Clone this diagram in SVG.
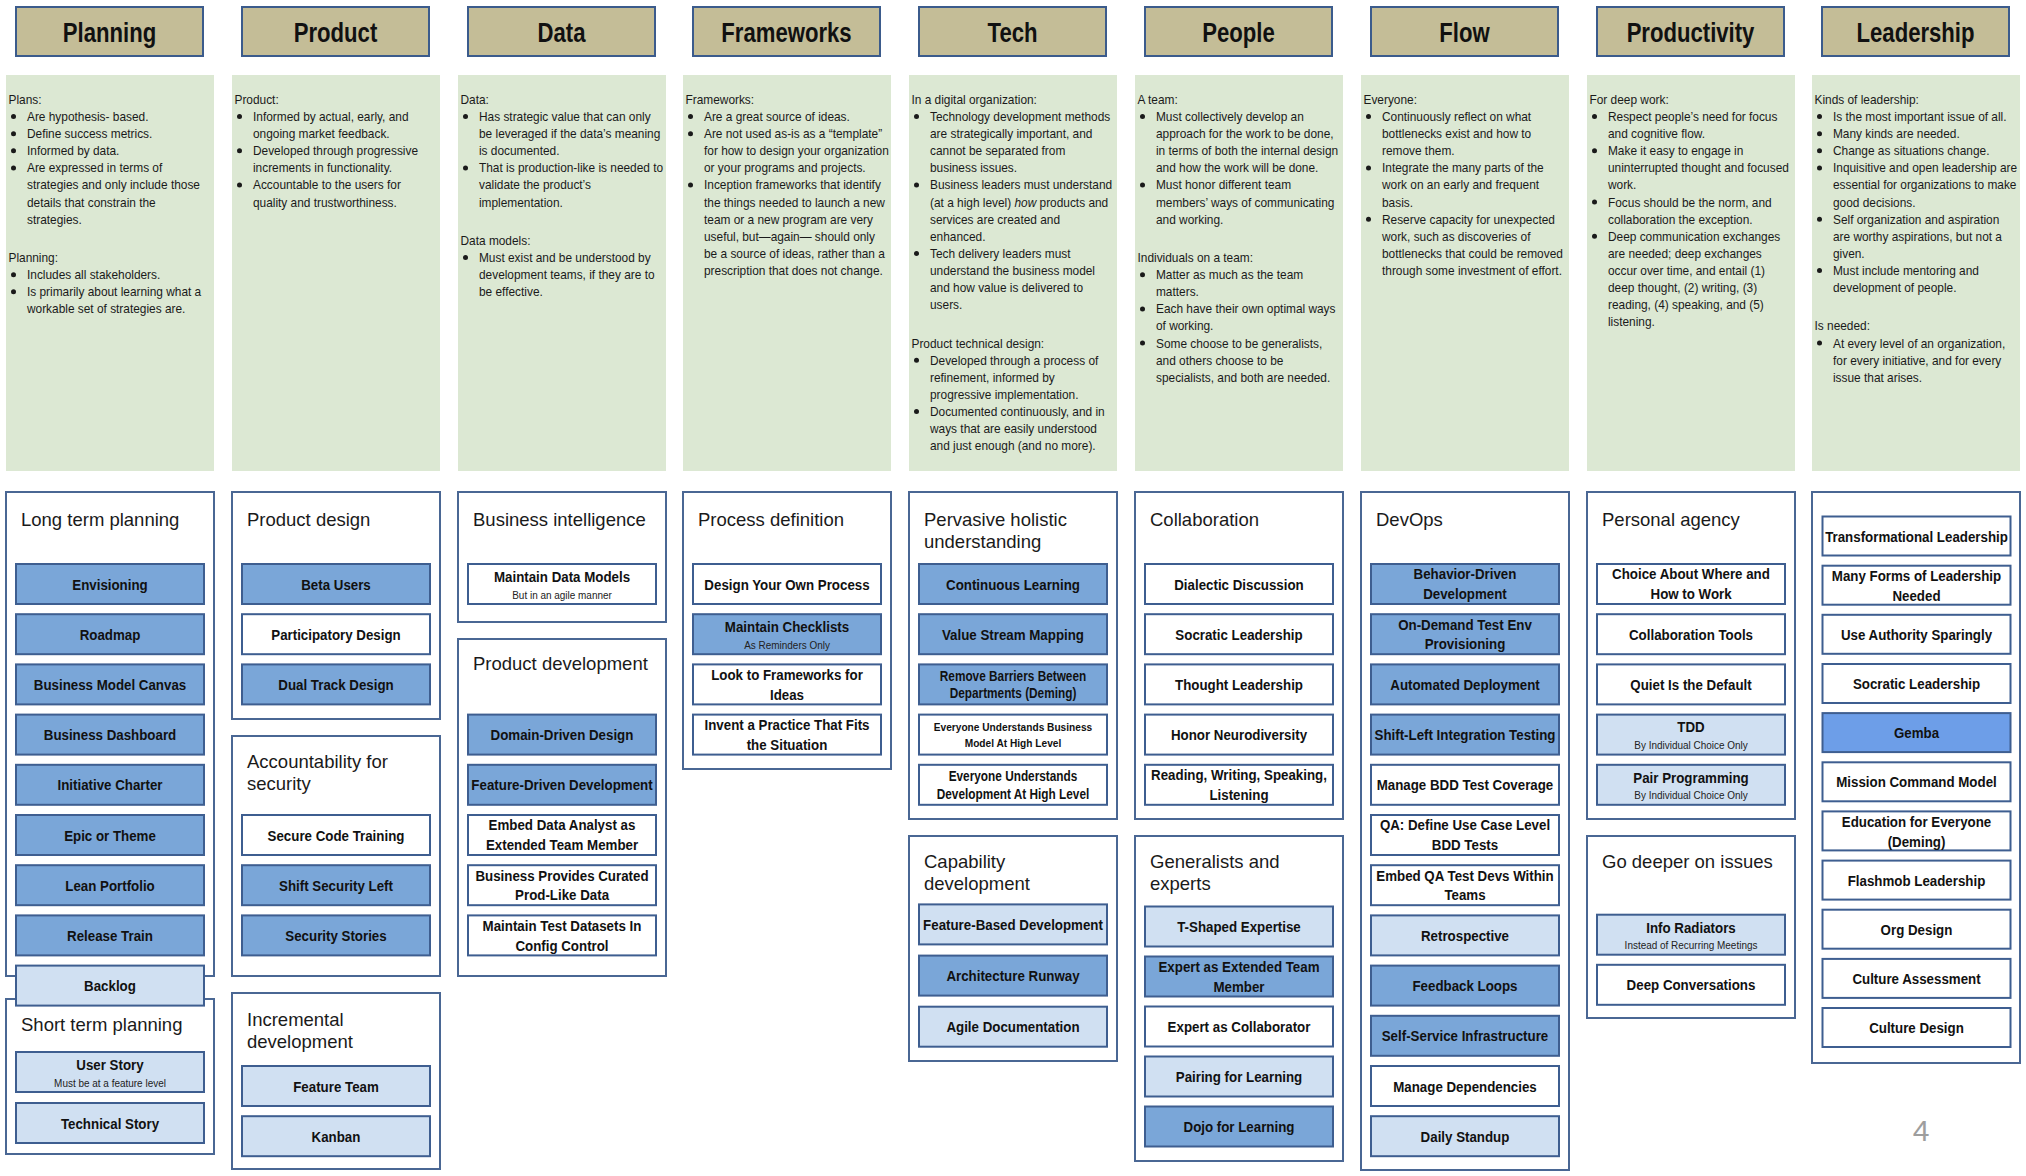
<svg xmlns="http://www.w3.org/2000/svg" width="2026" height="1176" viewBox="0 0 2026 1176">
<style>
.hd{fill:#c4bd97;stroke:#3b5b8c;stroke-width:2}
.ht{font-family:"Liberation Sans",Arial,sans-serif;font-weight:bold;font-size:28px;text-anchor:middle;fill:#111}
.pn{fill:#dce8d3}
.pt{font-family:"Liberation Sans",Arial,sans-serif;font-size:13px;fill:#1a1a1a}
.ct{fill:#fff;stroke:#4a6794;stroke-width:2}
.ctt{font-family:"Liberation Sans",Arial,sans-serif;font-size:18.5px;fill:#1a1a1a}
.it{stroke:#3e5e90;stroke-width:2}
.m{fill:#7aa6d8}.l{fill:#d0e0f2}.w{fill:#fff}.g{fill:#6d9ee8}
.ix,.sx{transform-box:fill-box;transform-origin:center;transform:translateY(0.9px) scaleX(0.86)}
.ix{font-family:"Liberation Sans",Arial,sans-serif;font-weight:bold;font-size:15.5px;text-anchor:middle;fill:#111}
.ix.s118{font-size:13.75px}.ix.s101{font-size:11.8px}
.sx{font-family:"Liberation Sans",Arial,sans-serif;font-size:11.6px;text-anchor:middle;fill:#222}
.bu{fill:#1a1a1a}
.pg{font-family:"Liberation Sans",Arial,sans-serif;font-size:30px;fill:#9e9e9e;text-anchor:middle}
</style>
<rect width="2026" height="1176" fill="#fff"/>

<!-- Headers -->
<g id="header-planning"><rect class="hd" x="16" y="7" width="187" height="49"/><text class="ht" transform="translate(109.5,42) scale(0.79,1)">Planning</text></g>
<g id="header-product"><rect class="hd" x="242" y="7" width="187" height="49"/><text class="ht" transform="translate(335.5,42) scale(0.79,1)">Product</text></g>
<g id="header-data"><rect class="hd" x="468" y="7" width="187" height="49"/><text class="ht" transform="translate(561.5,42) scale(0.79,1)">Data</text></g>
<g id="header-frameworks"><rect class="hd" x="693" y="7" width="187" height="49"/><text class="ht" transform="translate(786.5,42) scale(0.79,1)">Frameworks</text></g>
<g id="header-tech"><rect class="hd" x="919" y="7" width="187" height="49"/><text class="ht" transform="translate(1012.5,42) scale(0.79,1)">Tech</text></g>
<g id="header-people"><rect class="hd" x="1145" y="7" width="187" height="49"/><text class="ht" transform="translate(1238.5,42) scale(0.79,1)">People</text></g>
<g id="header-flow"><rect class="hd" x="1371" y="7" width="187" height="49"/><text class="ht" transform="translate(1464.5,42) scale(0.79,1)">Flow</text></g>
<g id="header-productivity"><rect class="hd" x="1597" y="7" width="187" height="49"/><text class="ht" transform="translate(1690.5,42) scale(0.79,1)">Productivity</text></g>
<g id="header-leadership"><rect class="hd" x="1822" y="7" width="187" height="49"/><text class="ht" transform="translate(1915.5,42) scale(0.79,1)">Leadership</text></g>

<!-- Notes panels -->
<g id="notes-planning">
<rect class="pn" x="6" y="75" width="208" height="396"/>
<g class="bu"><circle cx="13.5" cy="116.6" r="2.5"/><circle cx="13.5" cy="133.7" r="2.5"/><circle cx="13.5" cy="150.8" r="2.5"/><circle cx="13.5" cy="167.9" r="2.5"/><circle cx="13.5" cy="274.7" r="2.5"/><circle cx="13.5" cy="291.8" r="2.5"/></g>
<text class="pt" transform="translate(8.5,0) scale(0.915,1)"><tspan x="0" y="104">Plans:</tspan><tspan x="20.2" y="121.1">Are hypothesis- based.</tspan><tspan x="20.2" y="138.2">Define success metrics.</tspan><tspan x="20.2" y="155.3">Informed by data.</tspan><tspan x="20.2" y="172.4">Are expressed in terms of</tspan><tspan x="20.2" y="189.5">strategies and only include those</tspan><tspan x="20.2" y="206.6">details that constrain the</tspan><tspan x="20.2" y="223.7">strategies.</tspan><tspan x="0" y="262.1">Planning:</tspan><tspan x="20.2" y="279.2">Includes all stakeholders.</tspan><tspan x="20.2" y="296.3">Is primarily about learning what a</tspan><tspan x="20.2" y="313.4">workable set of strategies are.</tspan></text>
</g>
<g id="notes-product">
<rect class="pn" x="232" y="75" width="208" height="396"/>
<g class="bu"><circle cx="239.5" cy="116.6" r="2.5"/><circle cx="239.5" cy="150.8" r="2.5"/><circle cx="239.5" cy="185" r="2.5"/></g>
<text class="pt" transform="translate(234.5,0) scale(0.915,1)"><tspan x="0" y="104">Product:</tspan><tspan x="20.2" y="121.1">Informed by actual, early, and</tspan><tspan x="20.2" y="138.2">ongoing market feedback.</tspan><tspan x="20.2" y="155.3">Developed through progressive</tspan><tspan x="20.2" y="172.4">increments in functionality.</tspan><tspan x="20.2" y="189.5">Accountable to the users for</tspan><tspan x="20.2" y="206.6">quality and trustworthiness.</tspan></text>
</g>
<g id="notes-data">
<rect class="pn" x="458" y="75" width="208" height="396"/>
<g class="bu"><circle cx="465.5" cy="116.6" r="2.5"/><circle cx="465.5" cy="167.9" r="2.5"/><circle cx="465.5" cy="257.6" r="2.5"/></g>
<text class="pt" transform="translate(460.5,0) scale(0.915,1)"><tspan x="0" y="104">Data:</tspan><tspan x="20.2" y="121.1">Has strategic value that can only</tspan><tspan x="20.2" y="138.2">be leveraged if the data’s meaning</tspan><tspan x="20.2" y="155.3">is documented.</tspan><tspan x="20.2" y="172.4">That is production-like is needed to</tspan><tspan x="20.2" y="189.5">validate the product’s</tspan><tspan x="20.2" y="206.6">implementation.</tspan><tspan x="0" y="245">Data models:</tspan><tspan x="20.2" y="262.1">Must exist and be understood by</tspan><tspan x="20.2" y="279.2">development teams, if they are to</tspan><tspan x="20.2" y="296.3">be effective.</tspan></text>
</g>
<g id="notes-frameworks">
<rect class="pn" x="683" y="75" width="208" height="396"/>
<g class="bu"><circle cx="690.5" cy="116.6" r="2.5"/><circle cx="690.5" cy="133.7" r="2.5"/><circle cx="690.5" cy="185" r="2.5"/></g>
<text class="pt" transform="translate(685.5,0) scale(0.915,1)"><tspan x="0" y="104">Frameworks:</tspan><tspan x="20.2" y="121.1">Are a great source of ideas.</tspan><tspan x="20.2" y="138.2">Are not used as-is as a “template”</tspan><tspan x="20.2" y="155.3">for how to design your organization</tspan><tspan x="20.2" y="172.4">or your programs and projects.</tspan><tspan x="20.2" y="189.5">Inception frameworks that identify</tspan><tspan x="20.2" y="206.6">the things needed to launch a new</tspan><tspan x="20.2" y="223.7">team or a new program are very</tspan><tspan x="20.2" y="240.8">useful, but—again— should only</tspan><tspan x="20.2" y="257.9">be a source of ideas, rather than a</tspan><tspan x="20.2" y="275">prescription that does not change.</tspan></text>
</g>
<g id="notes-tech">
<rect class="pn" x="909" y="75" width="208" height="396"/>
<g class="bu"><circle cx="916.5" cy="116.6" r="2.5"/><circle cx="916.5" cy="185" r="2.5"/><circle cx="916.5" cy="253.4" r="2.5"/><circle cx="916.5" cy="360.2" r="2.5"/><circle cx="916.5" cy="411.5" r="2.5"/></g>
<text class="pt" transform="translate(911.5,0) scale(0.915,1)"><tspan x="0" y="104">In a digital organization:</tspan><tspan x="20.2" y="121.1">Technology development methods</tspan><tspan x="20.2" y="138.2">are strategically important, and</tspan><tspan x="20.2" y="155.3">cannot be separated from</tspan><tspan x="20.2" y="172.4">business issues.</tspan><tspan x="20.2" y="189.5">Business leaders must understand</tspan><tspan x="20.2" y="206.6">(at a high level) <tspan font-style="italic">how</tspan> products and</tspan><tspan x="20.2" y="223.7">services are created and</tspan><tspan x="20.2" y="240.8">enhanced.</tspan><tspan x="20.2" y="257.9">Tech delivery leaders must</tspan><tspan x="20.2" y="275">understand the business model</tspan><tspan x="20.2" y="292.1">and how value is delivered to</tspan><tspan x="20.2" y="309.2">users.</tspan><tspan x="0" y="347.6">Product technical design:</tspan><tspan x="20.2" y="364.7">Developed through a process of</tspan><tspan x="20.2" y="381.8">refinement, informed by</tspan><tspan x="20.2" y="398.9">progressive implementation.</tspan><tspan x="20.2" y="416">Documented continuously, and in</tspan><tspan x="20.2" y="433.1">ways that are easily understood</tspan><tspan x="20.2" y="450.2">and just enough (and no more).</tspan></text>
</g>
<g id="notes-people">
<rect class="pn" x="1135" y="75" width="208" height="396"/>
<g class="bu"><circle cx="1142.5" cy="116.6" r="2.5"/><circle cx="1142.5" cy="185" r="2.5"/><circle cx="1142.5" cy="274.7" r="2.5"/><circle cx="1142.5" cy="308.9" r="2.5"/><circle cx="1142.5" cy="343.1" r="2.5"/></g>
<text class="pt" transform="translate(1137.5,0) scale(0.915,1)"><tspan x="0" y="104">A team:</tspan><tspan x="20.2" y="121.1">Must collectively develop an</tspan><tspan x="20.2" y="138.2">approach for the work to be done,</tspan><tspan x="20.2" y="155.3">in terms of both the internal design</tspan><tspan x="20.2" y="172.4">and how the work will be done.</tspan><tspan x="20.2" y="189.5">Must honor different team</tspan><tspan x="20.2" y="206.6">members’ ways of communicating</tspan><tspan x="20.2" y="223.7">and working.</tspan><tspan x="0" y="262.1">Individuals on a team:</tspan><tspan x="20.2" y="279.2">Matter as much as the team</tspan><tspan x="20.2" y="296.3">matters.</tspan><tspan x="20.2" y="313.4">Each have their own optimal ways</tspan><tspan x="20.2" y="330.5">of working.</tspan><tspan x="20.2" y="347.6">Some choose to be generalists,</tspan><tspan x="20.2" y="364.7">and others choose to be</tspan><tspan x="20.2" y="381.8">specialists, and both are needed.</tspan></text>
</g>
<g id="notes-flow">
<rect class="pn" x="1361" y="75" width="208" height="396"/>
<g class="bu"><circle cx="1368.5" cy="116.6" r="2.5"/><circle cx="1368.5" cy="167.9" r="2.5"/><circle cx="1368.5" cy="219.2" r="2.5"/></g>
<text class="pt" transform="translate(1363.5,0) scale(0.915,1)"><tspan x="0" y="104">Everyone:</tspan><tspan x="20.2" y="121.1">Continuously reflect on what</tspan><tspan x="20.2" y="138.2">bottlenecks exist and how to</tspan><tspan x="20.2" y="155.3">remove them.</tspan><tspan x="20.2" y="172.4">Integrate the many parts of the</tspan><tspan x="20.2" y="189.5">work on an early and frequent</tspan><tspan x="20.2" y="206.6">basis.</tspan><tspan x="20.2" y="223.7">Reserve capacity for unexpected</tspan><tspan x="20.2" y="240.8">work, such as discoveries of</tspan><tspan x="20.2" y="257.9">bottlenecks that could be removed</tspan><tspan x="20.2" y="275">through some investment of effort.</tspan></text>
</g>
<g id="notes-productivity">
<rect class="pn" x="1587" y="75" width="208" height="396"/>
<g class="bu"><circle cx="1594.5" cy="116.6" r="2.5"/><circle cx="1594.5" cy="150.8" r="2.5"/><circle cx="1594.5" cy="202.1" r="2.5"/><circle cx="1594.5" cy="236.3" r="2.5"/></g>
<text class="pt" transform="translate(1589.5,0) scale(0.915,1)"><tspan x="0" y="104">For deep work:</tspan><tspan x="20.2" y="121.1">Respect people’s need for focus</tspan><tspan x="20.2" y="138.2">and cognitive flow.</tspan><tspan x="20.2" y="155.3">Make it easy to engage in</tspan><tspan x="20.2" y="172.4">uninterrupted thought and focused</tspan><tspan x="20.2" y="189.5">work.</tspan><tspan x="20.2" y="206.6">Focus should be the norm, and</tspan><tspan x="20.2" y="223.7">collaboration the exception.</tspan><tspan x="20.2" y="240.8">Deep communication exchanges</tspan><tspan x="20.2" y="257.9">are needed; deep exchanges</tspan><tspan x="20.2" y="275">occur over time, and entail (1)</tspan><tspan x="20.2" y="292.1">deep thought, (2) writing, (3)</tspan><tspan x="20.2" y="309.2">reading, (4) speaking, and (5)</tspan><tspan x="20.2" y="326.3">listening.</tspan></text>
</g>
<g id="notes-leadership">
<rect class="pn" x="1812" y="75" width="208" height="396"/>
<g class="bu"><circle cx="1819.5" cy="116.6" r="2.5"/><circle cx="1819.5" cy="133.7" r="2.5"/><circle cx="1819.5" cy="150.8" r="2.5"/><circle cx="1819.5" cy="167.9" r="2.5"/><circle cx="1819.5" cy="219.2" r="2.5"/><circle cx="1819.5" cy="270.5" r="2.5"/><circle cx="1819.5" cy="343.1" r="2.5"/></g>
<text class="pt" transform="translate(1814.5,0) scale(0.915,1)"><tspan x="0" y="104">Kinds of leadership:</tspan><tspan x="20.2" y="121.1">Is the most important issue of all.</tspan><tspan x="20.2" y="138.2">Many kinds are needed.</tspan><tspan x="20.2" y="155.3">Change as situations change.</tspan><tspan x="20.2" y="172.4">Inquisitive and open leadership are</tspan><tspan x="20.2" y="189.5">essential for organizations to make</tspan><tspan x="20.2" y="206.6">good decisions.</tspan><tspan x="20.2" y="223.7">Self organization and aspiration</tspan><tspan x="20.2" y="240.8">are worthy aspirations, but not a</tspan><tspan x="20.2" y="257.9">given.</tspan><tspan x="20.2" y="275">Must include mentoring and</tspan><tspan x="20.2" y="292.1">development of people.</tspan><tspan x="0" y="330.5">Is needed:</tspan><tspan x="20.2" y="347.6">At every level of an organization,</tspan><tspan x="20.2" y="364.7">for every initiative, and for every</tspan><tspan x="20.2" y="381.8">issue that arises.</tspan></text>
</g>

<!-- Containers -->
<g id="group-long-term-planning"><rect class="ct" x="6" y="492" width="208" height="484"/><text class="ctt" x="21" y="525.6">Long term planning</text></g>
<g id="group-short-term-planning"><rect class="ct" x="6" y="999" width="208" height="155"/><text class="ctt" x="21" y="1031">Short term planning</text></g>
<g id="group-product-design"><rect class="ct" x="232" y="492" width="208" height="227"/><text class="ctt" x="247" y="525.6">Product design</text></g>
<g id="group-accountability-security"><rect class="ct" x="232" y="736" width="208" height="240"/><text class="ctt" x="247" y="767.5">Accountability for</text><text class="ctt" x="247" y="789.5">security</text></g>
<g id="group-incremental-development"><rect class="ct" x="232" y="993" width="208" height="176"/><text class="ctt" x="247" y="1025.5">Incremental</text><text class="ctt" x="247" y="1047.5">development</text></g>
<g id="group-business-intelligence"><rect class="ct" x="458" y="492" width="208" height="130"/><text class="ctt" x="473" y="525.6">Business intelligence</text></g>
<g id="group-product-development"><rect class="ct" x="458" y="639" width="208" height="337"/><text class="ctt" x="473" y="670">Product development</text></g>
<g id="group-process-definition"><rect class="ct" x="683" y="492" width="208" height="277"/><text class="ctt" x="698" y="525.6">Process definition</text></g>
<g id="group-pervasive-holistic"><rect class="ct" x="909" y="492" width="208" height="327"/><text class="ctt" x="924" y="525.6">Pervasive holistic</text><text class="ctt" x="924" y="547.5">understanding</text></g>
<g id="group-capability-development"><rect class="ct" x="909" y="836" width="208" height="225"/><text class="ctt" x="924" y="867.5">Capability</text><text class="ctt" x="924" y="889.5">development</text></g>
<g id="group-collaboration"><rect class="ct" x="1135" y="492" width="208" height="327"/><text class="ctt" x="1150" y="525.6">Collaboration</text></g>
<g id="group-generalists-experts"><rect class="ct" x="1135" y="836" width="208" height="325"/><text class="ctt" x="1150" y="867.5">Generalists and</text><text class="ctt" x="1150" y="889.5">experts</text></g>
<g id="group-devops"><rect class="ct" x="1361" y="492" width="208" height="678"/><text class="ctt" x="1376" y="525.6">DevOps</text></g>
<g id="group-personal-agency"><rect class="ct" x="1587" y="492" width="208" height="327"/><text class="ctt" x="1602" y="525.6">Personal agency</text></g>
<g id="group-go-deeper"><rect class="ct" x="1587" y="836" width="208" height="182"/><text class="ctt" x="1602" y="867.5">Go deeper on issues</text></g>
<g id="group-leadership"><rect class="ct" x="1812" y="492" width="208" height="571"/></g>

<!-- Planning items -->
<g id="node-envisioning"><rect class="it m" x="16" y="564" width="188" height="40"/><text class="ix" x="110" y="588.7">Envisioning</text></g>
<g id="node-roadmap"><rect class="it m" x="16" y="614.2" width="188" height="40"/><text class="ix" x="110" y="638.9">Roadmap</text></g>
<g id="node-business-model-canvas"><rect class="it m" x="16" y="664.4" width="188" height="40"/><text class="ix" x="110" y="689.1">Business Model Canvas</text></g>
<g id="node-business-dashboard"><rect class="it m" x="16" y="714.6" width="188" height="40"/><text class="ix" x="110" y="739.3">Business Dashboard</text></g>
<g id="node-initiative-charter"><rect class="it m" x="16" y="764.8" width="188" height="40"/><text class="ix" x="110" y="789.5">Initiative Charter</text></g>
<g id="node-epic-theme"><rect class="it m" x="16" y="815" width="188" height="40"/><text class="ix" x="110" y="839.7">Epic or Theme</text></g>
<g id="node-lean-portfolio"><rect class="it m" x="16" y="865.2" width="188" height="40"/><text class="ix" x="110" y="889.9">Lean Portfolio</text></g>
<g id="node-release-train"><rect class="it m" x="16" y="915.4" width="188" height="40"/><text class="ix" x="110" y="940.1">Release Train</text></g>
<g id="node-backlog"><rect class="it l" x="16" y="965.6" width="188" height="40"/><text class="ix" x="110" y="990.3">Backlog</text></g>
<g id="node-user-story"><rect class="it l" x="16" y="1052" width="188" height="40"/><text class="ix" x="110" y="1069">User Story</text><text class="sx" x="110" y="1085.8">Must be at a feature level</text></g>
<g id="node-technical-story"><rect class="it l" x="16" y="1103" width="188" height="40"/><text class="ix" x="110" y="1127.7">Technical Story</text></g>

<!-- Product items -->
<g id="node-beta-users"><rect class="it m" x="242" y="564" width="188" height="40"/><text class="ix" x="336" y="588.7">Beta Users</text></g>
<g id="node-participatory-design"><rect class="it w" x="242" y="614.2" width="188" height="40"/><text class="ix" x="336" y="638.9">Participatory Design</text></g>
<g id="node-dual-track-design"><rect class="it m" x="242" y="664.4" width="188" height="40"/><text class="ix" x="336" y="689.1">Dual Track Design</text></g>
<g id="node-secure-code-training"><rect class="it w" x="242" y="815" width="188" height="40"/><text class="ix" x="336" y="839.7">Secure Code Training</text></g>
<g id="node-shift-security-left"><rect class="it m" x="242" y="865.2" width="188" height="40"/><text class="ix" x="336" y="889.9">Shift Security Left</text></g>
<g id="node-security-stories"><rect class="it m" x="242" y="915.4" width="188" height="40"/><text class="ix" x="336" y="940.1">Security Stories</text></g>
<g id="node-feature-team"><rect class="it l" x="242" y="1066" width="188" height="40"/><text class="ix" x="336" y="1090.7">Feature Team</text></g>
<g id="node-kanban"><rect class="it l" x="242" y="1116.2" width="188" height="40"/><text class="ix" x="336" y="1140.9">Kanban</text></g>

<!-- Data items -->
<g id="node-maintain-data-models"><rect class="it w" x="468" y="564" width="188" height="40"/><text class="ix" x="562" y="581">Maintain Data Models</text><text class="sx" x="562" y="597.8">But in an agile manner</text></g>
<g id="node-domain-driven-design"><rect class="it m" x="468" y="714.6" width="188" height="40"/><text class="ix" x="562" y="739.3">Domain-Driven Design</text></g>
<g id="node-feature-driven-development"><rect class="it m" x="468" y="764.8" width="188" height="40"/><text class="ix" x="562" y="789.5">Feature-Driven Development</text></g>
<g id="node-embed-data-analyst"><rect class="it w" x="468" y="815" width="188" height="40"/><text class="ix" x="562" y="829.6">Embed Data Analyst as</text><text class="ix" x="562" y="849.4">Extended Team Member</text></g>
<g id="node-business-provides-data"><rect class="it w" x="468" y="865.2" width="188" height="40"/><text class="ix" x="562" y="879.8">Business Provides Curated</text><text class="ix" x="562" y="899.6">Prod-Like Data</text></g>
<g id="node-maintain-test-datasets"><rect class="it w" x="468" y="915.4" width="188" height="40"/><text class="ix" x="562" y="930">Maintain Test Datasets In</text><text class="ix" x="562" y="949.8">Config Control</text></g>

<!-- Frameworks items -->
<g id="node-design-own-process"><rect class="it w" x="693" y="564" width="188" height="40"/><text class="ix" x="787" y="588.7">Design Your Own Process</text></g>
<g id="node-maintain-checklists"><rect class="it m" x="693" y="614.2" width="188" height="40"/><text class="ix" x="787" y="631.2">Maintain Checklists</text><text class="sx" x="787" y="648">As Reminders Only</text></g>
<g id="node-look-to-frameworks"><rect class="it w" x="693" y="664.4" width="188" height="40"/><text class="ix" x="787" y="679">Look to Frameworks for</text><text class="ix" x="787" y="698.8">Ideas</text></g>
<g id="node-invent-practice"><rect class="it w" x="693" y="714.6" width="188" height="40"/><text class="ix" x="787" y="729.2">Invent a Practice That Fits</text><text class="ix" x="787" y="749">the Situation</text></g>

<!-- Tech items -->
<g id="node-continuous-learning"><rect class="it m" x="919" y="564" width="188" height="40"/><text class="ix" x="1013" y="588.7">Continuous Learning</text></g>
<g id="node-value-stream-mapping"><rect class="it m" x="919" y="614.2" width="188" height="40"/><text class="ix" x="1013" y="638.9">Value Stream Mapping</text></g>
<g id="node-remove-barriers"><rect class="it m" x="919" y="664.4" width="188" height="40"/><text class="ix s118" x="1013" y="680.2">Remove Barriers Between</text><text class="ix s118" x="1013" y="697.5">Departments (Deming)</text></g>
<g id="node-everyone-business-model"><rect class="it w" x="919" y="714.6" width="188" height="40"/><text class="ix s101" x="1013" y="730.5">Everyone Understands Business</text><text class="ix s101" x="1013" y="745.8">Model At High Level</text></g>
<g id="node-everyone-development"><rect class="it w" x="919" y="764.8" width="188" height="40"/><text class="ix s118" x="1013" y="780.6">Everyone Understands</text><text class="ix s118" x="1013" y="797.9">Development At High Level</text></g>
<g id="node-feature-based-development"><rect class="it l" x="919" y="904.4" width="188" height="40"/><text class="ix" x="1013" y="929.1">Feature-Based Development</text></g>
<g id="node-architecture-runway"><rect class="it m" x="919" y="955.6" width="188" height="40"/><text class="ix" x="1013" y="980.3">Architecture Runway</text></g>
<g id="node-agile-documentation"><rect class="it l" x="919" y="1006.7" width="188" height="40"/><text class="ix" x="1013" y="1031.4">Agile Documentation</text></g>

<!-- People items -->
<g id="node-dialectic-discussion"><rect class="it w" x="1145" y="564" width="188" height="40"/><text class="ix" x="1239" y="588.7">Dialectic Discussion</text></g>
<g id="node-socratic-leadership-people"><rect class="it w" x="1145" y="614.2" width="188" height="40"/><text class="ix" x="1239" y="638.9">Socratic Leadership</text></g>
<g id="node-thought-leadership"><rect class="it w" x="1145" y="664.4" width="188" height="40"/><text class="ix" x="1239" y="689.1">Thought Leadership</text></g>
<g id="node-honor-neurodiversity"><rect class="it w" x="1145" y="714.6" width="188" height="40"/><text class="ix" x="1239" y="739.3">Honor Neurodiversity</text></g>
<g id="node-reading-writing"><rect class="it w" x="1145" y="764.8" width="188" height="40"/><text class="ix" x="1239" y="779.4">Reading, Writing, Speaking,</text><text class="ix" x="1239" y="799.2">Listening</text></g>
<g id="node-t-shaped"><rect class="it l" x="1145" y="906.5" width="188" height="40"/><text class="ix" x="1239" y="931.2">T-Shaped Expertise</text></g>
<g id="node-expert-extended"><rect class="it m" x="1145" y="956.5" width="188" height="40"/><text class="ix" x="1239" y="971.1">Expert as Extended Team</text><text class="ix" x="1239" y="990.9">Member</text></g>
<g id="node-expert-collaborator"><rect class="it w" x="1145" y="1006.5" width="188" height="40"/><text class="ix" x="1239" y="1031.2">Expert as Collaborator</text></g>
<g id="node-pairing-learning"><rect class="it l" x="1145" y="1056.5" width="188" height="40"/><text class="ix" x="1239" y="1081.2">Pairing for Learning</text></g>
<g id="node-dojo-learning"><rect class="it m" x="1145" y="1106.5" width="188" height="40"/><text class="ix" x="1239" y="1131.2">Dojo for Learning</text></g>

<!-- Flow items -->
<g id="node-bdd"><rect class="it m" x="1371" y="564" width="188" height="40"/><text class="ix" x="1465" y="578.6">Behavior-Driven</text><text class="ix" x="1465" y="598.4">Development</text></g>
<g id="node-on-demand-env"><rect class="it m" x="1371" y="614.2" width="188" height="40"/><text class="ix" x="1465" y="628.8">On-Demand Test Env</text><text class="ix" x="1465" y="648.6">Provisioning</text></g>
<g id="node-automated-deployment"><rect class="it m" x="1371" y="664.4" width="188" height="40"/><text class="ix" x="1465" y="689.1">Automated Deployment</text></g>
<g id="node-shift-left-testing"><rect class="it m" x="1371" y="714.6" width="188" height="40"/><text class="ix" x="1465" y="739.3">Shift-Left Integration Testing</text></g>
<g id="node-manage-bdd-coverage"><rect class="it w" x="1371" y="764.8" width="188" height="40"/><text class="ix" x="1465" y="789.5">Manage BDD Test Coverage</text></g>
<g id="node-qa-define"><rect class="it w" x="1371" y="815" width="188" height="40"/><text class="ix" x="1465" y="829.6">QA: Define Use Case Level</text><text class="ix" x="1465" y="849.4">BDD Tests</text></g>
<g id="node-embed-qa"><rect class="it w" x="1371" y="865.2" width="188" height="40"/><text class="ix" x="1465" y="879.8">Embed QA Test Devs Within</text><text class="ix" x="1465" y="899.6">Teams</text></g>
<g id="node-retrospective"><rect class="it l" x="1371" y="915.4" width="188" height="40"/><text class="ix" x="1465" y="940.1">Retrospective</text></g>
<g id="node-feedback-loops"><rect class="it m" x="1371" y="965.6" width="188" height="40"/><text class="ix" x="1465" y="990.3">Feedback Loops</text></g>
<g id="node-self-service"><rect class="it m" x="1371" y="1015.8" width="188" height="40"/><text class="ix" x="1465" y="1040.5">Self-Service Infrastructure</text></g>
<g id="node-manage-dependencies"><rect class="it w" x="1371" y="1066" width="188" height="40"/><text class="ix" x="1465" y="1090.7">Manage Dependencies</text></g>
<g id="node-daily-standup"><rect class="it l" x="1371" y="1116.2" width="188" height="40"/><text class="ix" x="1465" y="1140.9">Daily Standup</text></g>

<!-- Productivity items -->
<g id="node-choice-where-how"><rect class="it w" x="1597" y="564" width="188" height="40"/><text class="ix" x="1691" y="578.6">Choice About Where and</text><text class="ix" x="1691" y="598.4">How to Work</text></g>
<g id="node-collaboration-tools"><rect class="it w" x="1597" y="614.2" width="188" height="40"/><text class="ix" x="1691" y="638.9">Collaboration Tools</text></g>
<g id="node-quiet-default"><rect class="it w" x="1597" y="664.4" width="188" height="40"/><text class="ix" x="1691" y="689.1">Quiet Is the Default</text></g>
<g id="node-tdd"><rect class="it l" x="1597" y="714.6" width="188" height="40"/><text class="ix" x="1691" y="731.6">TDD</text><text class="sx" x="1691" y="748.4">By Individual Choice Only</text></g>
<g id="node-pair-programming"><rect class="it l" x="1597" y="764.8" width="188" height="40"/><text class="ix" x="1691" y="781.8">Pair Programming</text><text class="sx" x="1691" y="798.6">By Individual Choice Only</text></g>
<g id="node-info-radiators"><rect class="it l" x="1597" y="914.7" width="188" height="40"/><text class="ix" x="1691" y="931.7">Info Radiators</text><text class="sx" x="1691" y="948.5">Instead of Recurring Meetings</text></g>
<g id="node-deep-conversations"><rect class="it w" x="1597" y="964.8" width="188" height="40"/><text class="ix" x="1691" y="989.5">Deep Conversations</text></g>

<!-- Leadership items -->
<g id="node-transformational"><rect class="it w" x="1822.5" y="516.5" width="188" height="39"/><text class="ix" x="1916.5" y="540.8">Transformational Leadership</text></g>
<g id="node-many-forms"><rect class="it w" x="1822.5" y="565.7" width="188" height="39"/><text class="ix" x="1916.5" y="580.3">Many Forms of Leadership</text><text class="ix" x="1916.5" y="600.1">Needed</text></g>
<g id="node-use-authority"><rect class="it w" x="1822.5" y="614.8" width="188" height="39"/><text class="ix" x="1916.5" y="639.1">Use Authority Sparingly</text></g>
<g id="node-socratic-leadership"><rect class="it w" x="1822.5" y="664" width="188" height="39"/><text class="ix" x="1916.5" y="688.3">Socratic Leadership</text></g>
<g id="node-gemba"><rect class="it g" x="1822.5" y="713.1" width="188" height="39"/><text class="ix" x="1916.5" y="737.4">Gemba</text></g>
<g id="node-mission-command"><rect class="it w" x="1822.5" y="762.3" width="188" height="39"/><text class="ix" x="1916.5" y="786.6">Mission Command Model</text></g>
<g id="node-education-everyone"><rect class="it w" x="1822.5" y="811.4" width="188" height="39"/><text class="ix" x="1916.5" y="826.3">Education for Everyone</text><text class="ix" x="1916.5" y="846.1">(Deming)</text></g>
<g id="node-flashmob"><rect class="it w" x="1822.5" y="860.6" width="188" height="39"/><text class="ix" x="1916.5" y="884.9">Flashmob Leadership</text></g>
<g id="node-org-design"><rect class="it w" x="1822.5" y="909.7" width="188" height="39"/><text class="ix" x="1916.5" y="934">Org Design</text></g>
<g id="node-culture-assessment"><rect class="it w" x="1822.5" y="958.9" width="188" height="39"/><text class="ix" x="1916.5" y="983.2">Culture Assessment</text></g>
<g id="node-culture-design"><rect class="it w" x="1822.5" y="1008" width="188" height="39"/><text class="ix" x="1916.5" y="1032.3">Culture Design</text></g>

<text class="pg" x="1921" y="1141">4</text>
</svg>
